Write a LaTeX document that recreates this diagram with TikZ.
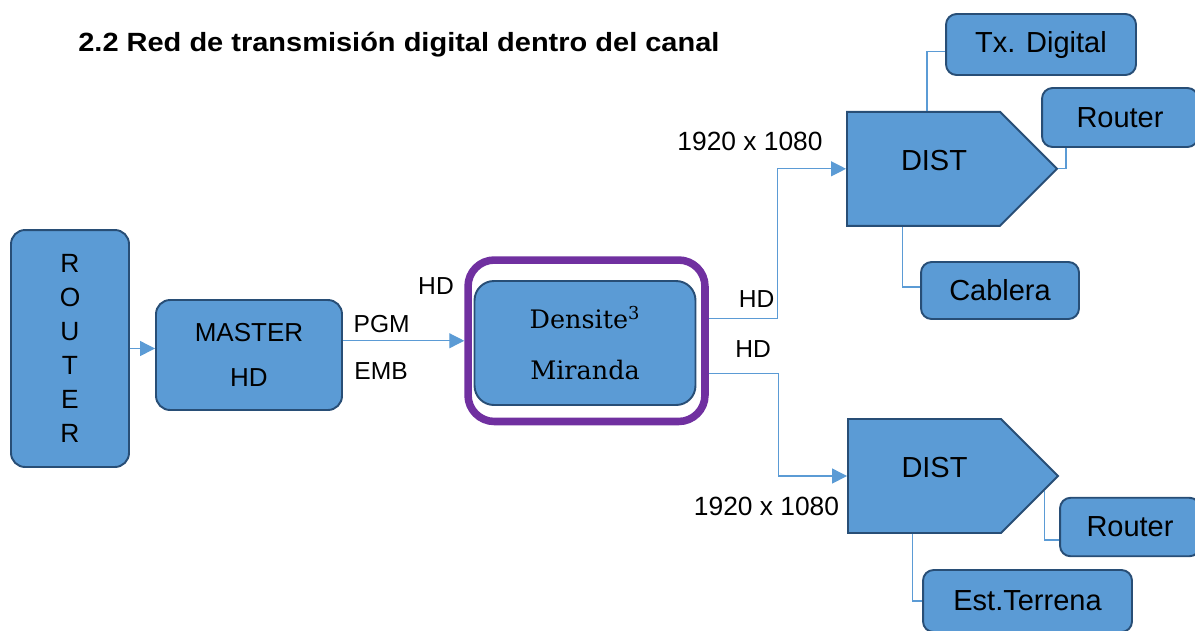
\documentclass[tikz,border=0pt]{standalone}
\usepackage{fontspec}
\setsansfont{Liberation Sans}
\newfontfamily\titlefont{Liberation Sans}[FakeStretch=1.1]
\newfontfamily\densfont{DejaVu Serif}
\usepackage{tikz}
\usetikzlibrary{arrows.meta,positioning,shapes.symbols,calc}
\definecolor{boxblue}{RGB}{91,155,213}
\definecolor{boxline}{RGB}{40,78,118}
\definecolor{linkblue}{RGB}{91,155,213}
\definecolor{framepurple}{RGB}{112,48,160}
\tikzset{
  blkbox/.style={draw=boxline, fill=boxblue, line width=1.1pt, rounded corners=8pt, align=center, inner sep=0pt, font=\sffamily\fontsize{14}{17}\selectfont},
  smallbox/.style={blkbox, rounded corners=6pt, font=\sffamily\fontsize{16.5}{19}\selectfont},
  distbox/.style={shape=signal, signal to=east, signal pointer angle=90, draw=boxline, fill=boxblue, line width=1.1pt, minimum width=4.2cm, minimum height=2.28cm, inner sep=0pt},
  link/.style={draw=linkblue, line width=0.7pt},
  linkarrow/.style={link, -{Triangle[length=0.3cm,width=0.3cm]}},
  lbl/.style={font=\sffamily\fontsize{14}{17}\selectfont, inner sep=0pt},
}
\begin{document}
\begin{tikzpicture}[x=0.02cm, y=-0.02cm]
  \useasboundingbox (0,0) rectangle (1195,630);
  \clip (0,0) rectangle (1195,630);

  %% Title
  \node[lbl, anchor=west, font=\titlefont\bfseries\fontsize{15}{18}\selectfont] (title) at (78,45) {2.2 Red de transmisión digital dentro del canal};

  %% Input side
  \node[blkbox, minimum width=2.36cm, minimum height=4.74cm, font=\sffamily\fontsize{15}{19.3}\selectfont] (router) at (70,348.5) {R\\O\\U\\T\\E\\R};
  \node[blkbox, minimum width=3.72cm, minimum height=2.2cm, font=\sffamily\fontsize{14.8}{26}\selectfont] (master) at (249,355) {MASTER\\HD};

  %% Densite frame
  \node[draw=framepurple, line width=4.3pt, rounded corners=15pt, minimum width=4.74cm, minimum height=3.23cm] (pur) at (586.5,340.75) {};
  \node[blkbox, rounded corners=11pt, minimum width=4.42cm, minimum height=2.48cm, font=\densfont\fontsize{14.5}{29}\selectfont] (dens) at (585,343) {Densite\textsuperscript{3}\\Miranda};

  \draw[linkarrow] (router.east) -- (router.east -| master.west);
  \draw[linkarrow] (pur.west -| master.east) -- (pur.west);
  \node[lbl] (pgm) at (381.7,324) {PGM};
  \node[lbl] (emb) at (381,371) {EMB};
  \node[lbl] (hdin) at (436,286) {HD};

  %% Distribution
  \node[distbox] (dist1) at (923.5,168.8) {};
  \node[lbl, font=\sffamily\fontsize{16.5}{19}\selectfont] (dist1txt) at ($(dist1.center)+(10.5,-8.5)$) {DIST};
  \node[distbox] (dist2) at (924.5,476) {};
  \node[lbl, font=\sffamily\fontsize{16.5}{19}\selectfont] (dist2txt) at ($(dist2.center)+(10,-8)$) {DIST};

  \draw[linkarrow] ($(pur.east)+(0,-22.5)$) -- ++(69,0) |- (dist1.west);
  \draw[linkarrow] ($(pur.east)+(0,32.5)$) -- ++(70,0) |- (dist2.west);
  \node[lbl] (hdup) at (756.5,299) {HD};
  \node[lbl] (hddown) at (753,349) {HD};
  \node[lbl, font=\sffamily\fontsize{15}{18}\selectfont] (resup) at (750,141) {1920 x 1080};
  \node[lbl, font=\sffamily\fontsize{15}{18}\selectfont] (resdown) at (766.5,506) {1920 x 1080};

  %% Outputs
  \node[smallbox, minimum width=3.8cm, minimum height=1.22cm] (txd) at (1041,44.5) {Tx. Digital};
  \node[smallbox, minimum width=3.12cm, minimum height=1.18cm] (rt1) at (1120,117.5) {Router};
  \node[smallbox, minimum width=3.16cm, minimum height=1.14cm] (cab) at (1000,290.5) {Cablera};
  \node[smallbox, minimum width=2.8cm, minimum height=1.17cm] (rt2) at (1130,527) {Router};
  \node[smallbox, minimum width=4.18cm, minimum height=1.24cm] (est) at (1027.5,601) {Est.Terrena};

  \draw[link] ($(dist1.north)+(3.5,0)$) |- ($(txd.west)+(0,7)$);
  \draw[link] (dist1.east) -| ($(rt1.south west)+(25,0)$);
  \draw[link] ($(dist1.south)+(-21,0)$) |- ($(cab.west)+(0,-3.5)$);
  \draw[link] ($(dist2.east)+(-15,15)$) |- ($(rt2.west)+(0,13)$);
  \draw[link] ($(dist2.south)+(-12,0)$) |- (est.west);
\end{tikzpicture}
\end{document}
